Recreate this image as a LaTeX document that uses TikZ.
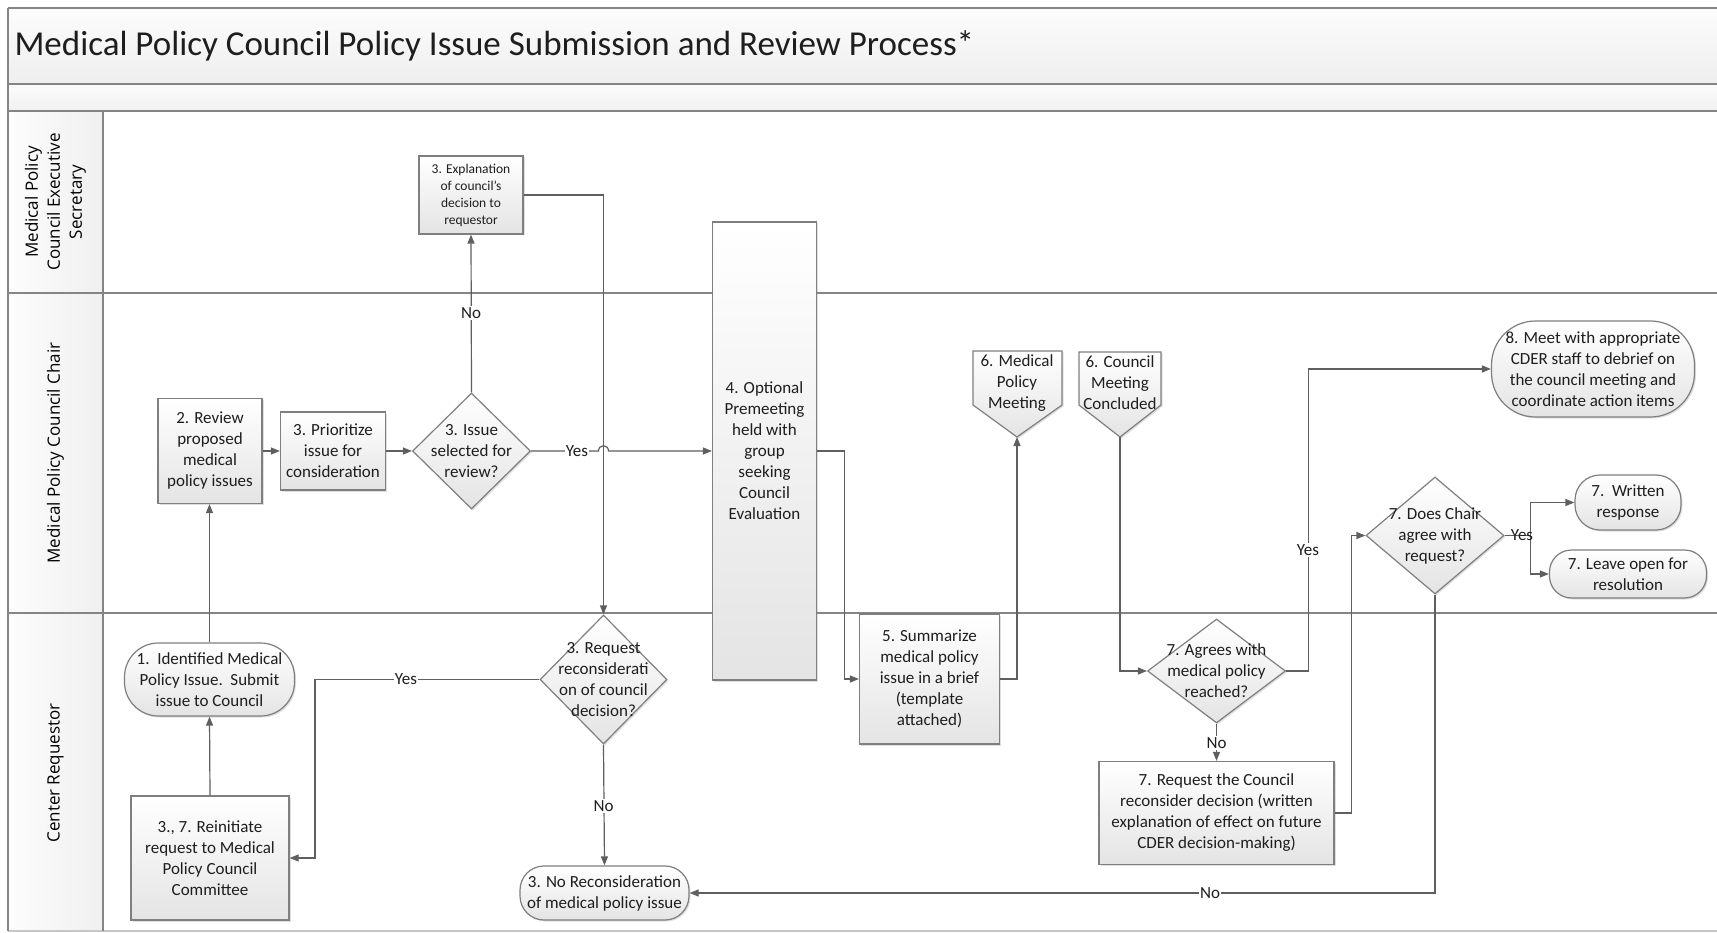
\documentclass[tikz,border=0pt]{standalone}
\usepackage{fontspec}
\setmainfont{Carlito}
\newfontfamily\lanefont{Open Sans}
\usetikzlibrary{arrows.meta,shapes.geometric,shadows,calc}

\definecolor{lineC}{HTML}{5F5F5F}
\definecolor{borderC}{HTML}{7F7F7F}
\definecolor{laneC}{HTML}{858585}
\definecolor{fillB}{HTML}{E4E4E4}
\definecolor{txtC}{HTML}{1E1E1E}

\tikzset{
  lane/.style={draw=laneC, line width=2pt},
  shad/.style={drop shadow={shadow xshift=1.5pt, shadow yshift=-1.5pt, opacity=0.25}},
  box/.style={rectangle, draw=borderC, line width=1.2pt, top color=white, bottom color=fillB,
    align=center, inner sep=2pt, font=\fontsize{17}{21}\selectfont, text=txtC, shad},
  term/.style={box, rounded corners=#1},
  dia/.style={diamond, draw=borderC, line width=1.2pt, top color=white, bottom color=fillB,
    inner sep=0pt, shad},
  dtxt/.style={align=center, inner sep=0pt, font=\fontsize{17}{21}\selectfont, text=txtC},
  offp/.style={draw=borderC, line width=1.2pt, top color=white, bottom color=fillB, shad},
  offtxt/.style={align=center, inner sep=0pt, font=\fontsize{17}{21}\selectfont, text=txtC},
  conn/.style={draw=lineC, line width=1.2pt, -{Triangle[length=9pt,width=7pt]}},
  lbl/.style={fill=white, inner sep=1pt, font=\fontsize{17}{20}\selectfont, text=txtC},
  lanelbl/.style={rotate=90, align=center, font=\lanefont\fontsize{17}{22}\selectfont, text=black}
}

\begin{document}
\begin{tikzpicture}[x=1pt,y=-1pt]
\useasboundingbox (0,0) rectangle (1717,933);
\fill[white] (0,0) rectangle (1717,933);

% ---- frame ----
\shade[top color=white!98!gray, bottom color=gray!13] (8,8) rectangle (1717,84);
\shade[top color=white!98!gray, bottom color=gray!12] (8,84) rectangle (1717,111);
\shade[left color=white!98!gray, right color=gray!12] (8,111) rectangle (103,931);
\draw[lane] (8,8) -- (1717,8);
\draw[lane] (8,84) -- (1717,84);
\draw[lane] (8,111) -- (1717,111);
\draw[lane] (8,293) -- (1717,293);
\draw[lane] (8,613) -- (1717,613);
\draw[draw=gray!45, line width=2pt] (8,931) -- (1717,931);
\draw[lane] (8,8) -- (8,931);
\draw[lane] (103,111) -- (103,931);

\node[anchor=west, font=\fontsize{35}{40}\selectfont, text=txtC] (title) at (11,46)
  {Medical Policy Council Policy Issue Submission and Review Process*};

\node[lanelbl] (lane1) at (55.5,202) {Medical Policy\\Council Executive\\Secretary};
\node[lanelbl] (lane2) at (55.5,453) {Medical Policy Council Chair};
\node[lanelbl] (lane3) at (55.5,773) {Center Requestor};

% ---- nodes ----
\node[box, minimum width=104pt, minimum height=78pt, font=\fontsize{13.5}{17}\selectfont] (expl) at (471,195)
  {3. Explanation\\of council’s\\decision to\\requestor};
\node[box, minimum width=104pt, minimum height=105pt] (rev) at (210,451)
  {2. Review\\proposed\\medical\\policy issues};
\node[box, minimum width=105pt, minimum height=78pt] (prio) at (333,451)
  {3. Prioritize\\issue for\\consideration};
\node[dia, minimum width=118pt, minimum height=116pt,
  label={[dtxt]center:{3. Issue\\selected for\\review?}}] (dsel) at (471.5,451) {};
\node[box, minimum width=104pt, minimum height=458pt] (pre) at (764.5,451)
  {4. Optional\\Premeeting\\held with\\group\\seeking\\Council\\Evaluation};
\node[box, minimum width=140pt, minimum height=130pt] (summ) at (929.5,679)
  {5. Summarize\\medical policy\\issue in a brief\\(template\\attached)};

% off-page reference shapes
\coordinate (mpmtip) at (1017,437);
\coordinate (mcctip) at (1120,437);
\path[offp] (973,351) -- (1062,351) -- (1062,405) -- (mpmtip) -- (973,405) -- cycle;
\path[offp] (1079,352) -- (1161,352) -- (1161,405) -- (mcctip) -- (1079,405) -- cycle;
\node[offtxt] (mpm) at (1017,383) {6. Medical\\Policy\\Meeting};
\node[offtxt] (mcc) at (1120,383) {6. Council\\Meeting\\Concluded};

\node[dia, minimum width=138pt, minimum height=104pt,
  label={[dtxt]center:{7. Agrees with\\medical policy\\reached?}}] (dagr) at (1216.5,671) {};
\node[box, minimum width=235pt, minimum height=103pt] (reqc) at (1216.5,813)
  {7. Request the Council\\reconsider decision (written\\explanation of effect on future\\CDER decision-making)};
\node[dia, minimum width=138pt, minimum height=117pt,
  label={[dtxt]center:{7. Does Chair\\agree with\\request?}}] (dchair) at (1435,535.5) {};
\node[term=44pt, minimum width=203pt, minimum height=96pt] (meet) at (1593,369)
  {8. Meet with appropriate\\CDER staff to debrief on\\the council meeting and\\coordinate action items};
\node[term=25pt, minimum width=106pt, minimum height=55pt] (writ) at (1628,502.5)
  {7.\ \ Written\\response};
\node[term=22pt, minimum width=157pt, minimum height=48pt] (leave) at (1628,574)
  {7. Leave open for\\resolution};
\node[term=34pt, minimum width=170pt, minimum height=73pt] (iden) at (209.5,679.5)
  {1.\ \ Identified Medical\\Policy Issue.\ \ Submit\\issue to Council};
\node[box, minimum width=158pt, minimum height=124pt] (rein) at (210,858)
  {3., 7. Reinitiate\\request to Medical\\Policy Council\\Committee};
\node[dia, minimum width=127pt, minimum height=129pt,
  label={[dtxt]center:{3. Request\\reconsiderati\\on of council\\decision?}}] (drec) at (603.5,679.5) {};
\node[term=24pt, minimum width=169pt, minimum height=54pt] (norec) at (604.5,893)
  {3. No Reconsideration\\of medical policy issue};

% ---- connectors ----
\draw[conn] (iden.north) -- (iden.north |- rev.south);
\draw[conn] (rev.east) -- (prio.west);
\draw[conn] (prio.east) -- (dsel.west);
\draw[conn] (dsel.north) -- (expl.south);
\draw[conn] (dsel.east) -- (598.5,451) .. controls (598.5,444) and (608.5,444) .. (608.5,451) -- (pre.west);
\draw[conn] (expl.east) -| (drec.north);
\draw[conn] (pre.east) -- ++(27,0) |- (summ.west);
\draw[conn] (summ.east) -| (mpmtip);
\draw[conn] (mcctip) |- (dagr.west);
\draw[conn] (dagr.east) -- ++(22,0) |- (meet.west);
\draw[conn] (dagr.south) -- (reqc.north);
\draw[conn] (reqc.east) -- ++(16.5,0) |- (dchair.west);
\draw[conn] (dchair.east) -- ++(26,0) |- (writ.west);
\draw[conn] (dchair.east) -- ++(26,0) |- (leave.west);
\draw[conn] (dchair.south) |- (norec.east);
\draw[conn] (drec.west) -- (315,679.5) |- (rein.east);
\draw[conn] (drec.south) -- (norec.north);
\draw[conn] (rein.north) -- (iden.south);

% ---- connector labels ----
\node[lbl] (lNo1) at (471,313) {No};
\node[lbl] (lYes1) at (577,451) {Yes};
\node[lbl] (lYes2) at (1308,550) {Yes};
\node[lbl] (lNo2) at (1216.5,743) {No};
\node[lbl, fill=none] (lYes3) at (1522,535.5) {Yes};
\node[lbl] (lNo3) at (1210,893) {No};
\node[lbl] (lYes4) at (406,679.5) {Yes};
\node[lbl] (lNo4) at (603.5,806) {No};
\end{tikzpicture}
\end{document}
